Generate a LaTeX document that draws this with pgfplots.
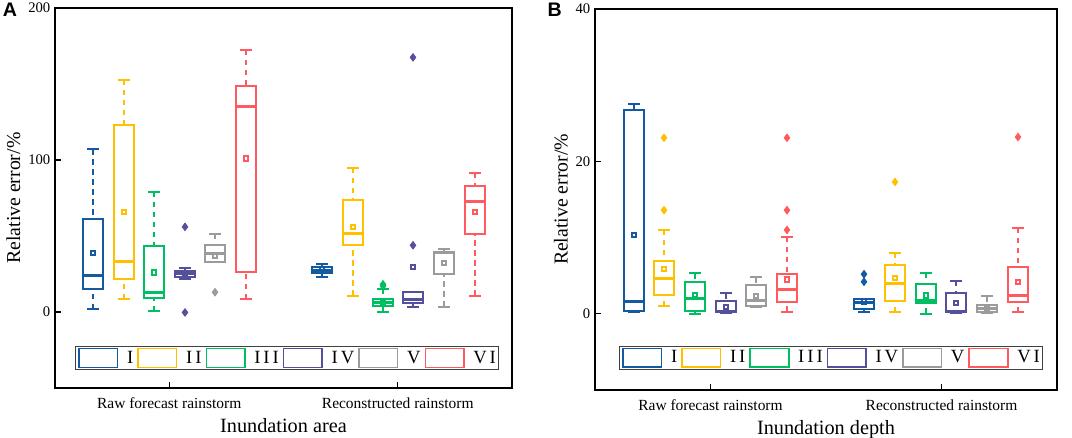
\documentclass[border=0pt]{standalone}
\usepackage{fontspec}
\setmainfont{Liberation Serif}
\newfontfamily\panelfont{Liberation Sans}
\usepackage{pgfplots}
\pgfplotsset{compat=1.18}
\usepgfplotslibrary{statistics}

\definecolor{c1}{HTML}{145AA0}
\definecolor{c2}{HTML}{FFC000}
\definecolor{c3}{HTML}{00BF63}
\definecolor{c4}{HTML}{55509B}
\definecolor{c5}{HTML}{9B9B9B}
\definecolor{c6}{HTML}{FF5A5F}

% letter gap in the spaced roman numerals of the legend
\newcommand\kk{\kern2.2pt}

\pgfplotsset{
  bx/.style={draw=#1, line width=1.5pt, solid,
    mark=diamond*, mark size=2.9pt, mark options={draw=#1, fill=#1, solid, line width=0.5pt},
    boxplot/every average/.style={/tikz/mark=square, /tikz/mark size=1.6pt,
      /tikz/mark options={draw=#1!50, fill=none, solid, line width=0.5pt}}},
  boxplot/draw direction=y,
  boxplot/every median/.style={line width=2.25pt},
  boxplot/draw/lower whisker/.code={%
    \draw[dash pattern=on 4pt off 3.5pt]
      (boxplot box cs:\pgfplotsboxplotvalue{lower whisker},0.5) --
      (boxplot box cs:\pgfplotsboxplotvalue{lower quartile},0.5);
    \draw (boxplot whisker cs:\pgfplotsboxplotvalue{lower whisker},0) --
      (boxplot whisker cs:\pgfplotsboxplotvalue{lower whisker},1);},
  boxplot/draw/upper whisker/.code={%
    \draw[dash pattern=on 4pt off 3.5pt]
      (boxplot box cs:\pgfplotsboxplotvalue{upper whisker},0.5) --
      (boxplot box cs:\pgfplotsboxplotvalue{upper quartile},0.5);
    \draw (boxplot whisker cs:\pgfplotsboxplotvalue{upper whisker},0) --
      (boxplot whisker cs:\pgfplotsboxplotvalue{upper whisker},1);},
  panel/.style={
    anchor=south west, scale only axis,
    xmin=0, xmax=4, xtick={1,3},
    xticklabels={Raw forecast rainstorm, Reconstructed rainstorm},
    tick align=inside, tick pos=left, major tick length=4.5pt,
    axis line style={line width=0.9pt}, every tick/.style={black, line width=0.9pt},
    /pgf/number format/assume math mode=true,
    ticklabel style={font=\fontsize{11}{12}\selectfont},
    xticklabel style={font=\fontsize{11.6}{13}\selectfont, yshift=-3.5pt},
    xlabel style={font=\fontsize{15.2}{17}\selectfont, yshift=-1pt},
    ylabel style={font=\fontsize{14.8}{16}\selectfont, yshift=-1pt},
    ylabel={Relative error/\%},
    legend columns=6,
    legend image code/.code={\draw[##1, line width=1.1pt] (0pt,-7pt) rectangle (29pt,7pt);},
    legend style={draw=black!75, line width=0.6pt, anchor=center,
      font=\fontsize{14}{15}\selectfont,
      inner xsep=2pt, inner ysep=1pt,
      nodes={inner xsep=0pt, inner ysep=1pt},
      /tikz/every odd column/.append style={column sep=6.5pt},
      /tikz/every even column/.append style={column sep=3pt}},
  },
}

\begin{document}
\begin{tikzpicture}
\useasboundingbox (0,0) rectangle (804pt,328.5pt);

% ---------- A: inundation area
\begin{axis}[panel, at={(41.25pt,37.5pt)}, width=342.75pt, height=285pt,
  ymin=-50, ymax=200, ytick={0,100,200},
  boxplot/box extend=0.175, boxplot/whisker extend=0.105,
  xlabel={Inundation area},
  legend style={at={(0.508,0.079)}}]

  % raw forecast rainstorm
  \addplot[bx=c1, boxplot prepared={draw position=0.3326, lower whisker=2, lower quartile=15, median=24, upper quartile=61, upper whisker=107, average=38.6}] coordinates {};
  \addplot[bx=c2, boxplot prepared={draw position=0.6039, lower whisker=8.3, lower quartile=22, median=33.3, upper quartile=122.8, upper whisker=152.6, average=65.8}] coordinates {};
  \addplot[bx=c3, boxplot prepared={draw position=0.8665, lower whisker=0.5, lower quartile=9.4, median=12.5, upper quartile=43.6, upper whisker=79, average=25.9}] coordinates {};
  \addplot[bx=c4, boxplot prepared={draw position=1.1379, lower whisker=21.7, lower quartile=23.2, median=25.6, upper quartile=27, upper whisker=29.2, average=25.5}] coordinates {(0,56) (0,-0.3)};
  \addplot[bx=c5, boxplot prepared={draw position=1.4004, lower whisker=32.9, lower quartile=32.9, median=38.7, upper quartile=43.8, upper whisker=51.5, average=36.8}] coordinates {(0,13)};
  \addplot[bx=c6, boxplot prepared={draw position=1.6718, lower whisker=8.3, lower quartile=26.5, median=135.5, upper quartile=148.7, upper whisker=172.4, average=100.9}] coordinates {};

  % reconstructed rainstorm
  \addplot[bx=c1, boxplot prepared={draw position=2.3370, lower whisker=23.2, lower quartile=25.4, median=27.6, upper quartile=29.8, upper whisker=31.3, average=28.3}] coordinates {};
  \addplot[bx=c2, boxplot prepared={draw position=2.6083, lower whisker=10.7, lower quartile=44, median=51.8, upper quartile=73.5, upper whisker=95, average=55.7}] coordinates {};
  \addplot[bx=c3, boxplot prepared={draw position=2.8709, lower whisker=0.2, lower quartile=3.9, median=6.4, upper quartile=8.6, upper whisker=15.1, average=6.5}] coordinates {(0,18.2) (0,17)};
  \addplot[bx=c4, boxplot prepared={draw position=3.1335, lower whisker=3.5, lower quartile=5.7, median=7.9, upper quartile=13.4, upper whisker=13.4, average=29.4}] coordinates {(0,167.5) (0,43.9)};
  \addplot[bx=c5, boxplot prepared={draw position=3.4048, lower whisker=3.5, lower quartile=25, median=39.2, upper quartile=39.6, upper whisker=41.2, average=32}] coordinates {};
  \addplot[bx=c6, boxplot prepared={draw position=3.6761, lower whisker=10.7, lower quartile=51.3, median=72.4, upper quartile=82.9, upper whisker=91.4, average=65.6}] coordinates {};

  \addlegendimage{draw=c1}\addlegendentry{I}
  \addlegendimage{draw=c2}\addlegendentry{I\kk I}
  \addlegendimage{draw=c3}\addlegendentry{I\kk I\kk I}
  \addlegendimage{draw=c4}\addlegendentry{I\kk V}
  \addlegendimage{draw=c5}\addlegendentry{V}
  \addlegendimage{draw=c6}\addlegendentry{V\kk I}
\end{axis}

% ---------- B: inundation depth
\begin{axis}[panel, at={(446.25pt,36pt)}, width=346.5pt, height=285.75pt,
  ymin=-10, ymax=40, ytick={0,20,40},
  boxplot/box extend=0.1732, boxplot/whisker extend=0.104,
  xlabel={Inundation depth},
  legend style={at={(0.511,0.085)}}]

  % raw forecast rainstorm
  \addplot[bx=c1, boxplot prepared={draw position=0.3377, lower whisker=0.2, lower quartile=0.4, median=1.6, upper quartile=26.8, upper whisker=27.5, average=10.3}] coordinates {};
  \addplot[bx=c2, boxplot prepared={draw position=0.5974, lower whisker=1.0, lower quartile=2.5, median=4.6, upper quartile=6.9, upper whisker=11, average=5.9}] coordinates {(0,23.1) (0,13.6)};
  \addplot[bx=c3, boxplot prepared={draw position=0.8658, lower whisker=0, lower quartile=0.4, median=2.0, upper quartile=4.2, upper whisker=5.3, average=2.5}] coordinates {};
  \addplot[bx=c4, boxplot prepared={draw position=1.1342, lower whisker=0.15, lower quartile=0.2, median=0.3, upper quartile=1.7, upper whisker=2.7, average=0.9}] coordinates {};
  \addplot[bx=c5, boxplot prepared={draw position=1.3939, lower whisker=0.9, lower quartile=1.0, median=1.75, upper quartile=3.8, upper whisker=4.8, average=2.3}] coordinates {};
  \addplot[bx=c6, boxplot prepared={draw position=1.6623, lower whisker=0.3, lower quartile=1.5, median=3.2, upper quartile=5.2, upper whisker=10.1, average=4.5}] coordinates {(0,23.1) (0,13.6) (0,11)};

  % reconstructed rainstorm
  \addplot[bx=c1, boxplot prepared={draw position=2.3290, lower whisker=0.2, lower quartile=0.6, median=1.5, upper quartile=1.9, upper whisker=1.9, average=1.6}] coordinates {(0,5.2) (0,4.2)};
  \addplot[bx=c2, boxplot prepared={draw position=2.5974, lower whisker=0.2, lower quartile=1.7, median=4.0, upper quartile=6.4, upper whisker=8.0, average=4.7}] coordinates {(0,17.3)};
  \addplot[bx=c3, boxplot prepared={draw position=2.8658, lower whisker=0, lower quartile=1.4, median=1.8, upper quartile=3.9, upper whisker=5.4, average=2.4}] coordinates {};
  \addplot[bx=c4, boxplot prepared={draw position=3.1255, lower whisker=0.15, lower quartile=0.2, median=0.26, upper quartile=2.7, upper whisker=4.3, average=1.4}] coordinates {};
  \addplot[bx=c5, boxplot prepared={draw position=3.3939, lower whisker=0.1, lower quartile=0.3, median=0.66, upper quartile=1.1, upper whisker=2.3, average=0.8}] coordinates {};
  \addplot[bx=c6, boxplot prepared={draw position=3.6623, lower whisker=0.2, lower quartile=1.5, median=2.4, upper quartile=6.1, upper whisker=11.3, average=4.2}] coordinates {(0,23.2)};

  \addlegendimage{draw=c1}\addlegendentry{I}
  \addlegendimage{draw=c2}\addlegendentry{I\kk I}
  \addlegendimage{draw=c3}\addlegendentry{I\kk I\kk I}
  \addlegendimage{draw=c4}\addlegendentry{I\kk V}
  \addlegendimage{draw=c5}\addlegendentry{V}
  \addlegendimage{draw=c6}\addlegendentry{V\kk I}
\end{axis}

\node[font=\panelfont\bfseries\fontsize{14.7}{15}\selectfont] at (7.5pt,321.5pt) {A};
\node[font=\panelfont\bfseries\fontsize{14.7}{15}\selectfont] at (416pt,321.5pt) {B};
\end{tikzpicture}
\end{document}
